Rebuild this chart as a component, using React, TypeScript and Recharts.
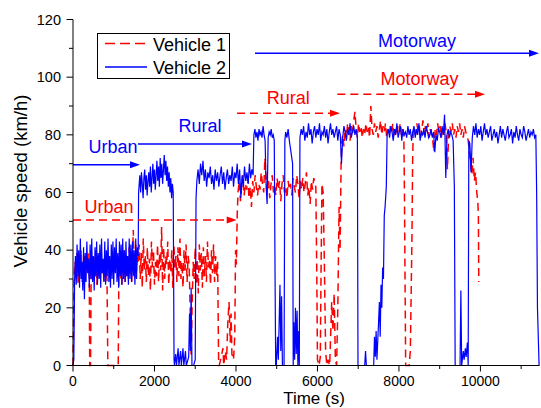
import React from 'react';
import { LineChart, Line, XAxis, YAxis, Legend, ReferenceLine, ReferenceDot } from 'recharts';

const FONT = '"Liberation Sans", Arial, Helvetica, sans-serif';
const RED = '#ff0000';
const BLUE = '#0000ff';
const DASH = '8 5';

const T_MAX = 11450;
const X_TICKS = [0, 1000, 2000, 3000, 4000, 5000, 6000, 7000, 8000, 9000, 10000, 11000];
const Y_TICKS = [0, 10, 20, 30, 40, 50, 60, 70, 80, 90, 100, 110, 120];

// ---- Vehicle 1 (red, dashed) ----
const V1_START = [[0, 0], [30, 32]];
const V1_URBAN_A = [36, 30, 39, 28, 37, 32, 40, 29, 35, 38, 30, 37, 33, 39, 31]; // 50..400 every 25 s
const V1_STOP_A = [[410, 0], [430, 0], [445, 30]];
const V1_URBAN_B = [36, 29, 38, 31, 40, 28, 35, 37, 30, 39, 32, 36, 29, 38, 33, 30]; // 460..835 every 25 s
const V1_STOP_B = [[855, 0], [1110, 0], [1125, 32]];
const V1_URBAN_C = [37, 30, 39, 28, 36, 33, 40, 29, 38, 31, 37, 30, 41, 32, 39, 29, 38, 47, 34, 30, 42, 33, 40]; // 1140..1580 every 20 s
const V1_URBAN_D = [
  36, 42, 30, 39, 27, 44, 33, 38, 29, 41, 31, 37, 26, 43, 34, 40, 28, 36, 31, 42,
  29, 39, 33, 48, 26, 41, 30, 38, 35, 43, 28, 37, 32, 40, 27, 42, 34, 38, 29, 41,
  31, 44, 30, 36, 27, 40, 33, 42, 29, 38, 35, 20, 3, 22, 36, 30, 41, 28, 37, 25,
  42, 33, 39, 27, 41, 31, 38, 29, 43, 34, 37, 28, 40, 32, 42, 29, 38, 31, 36,
]; // 1600..3550 every 25 s
const V1_STOP_C = [
  [3575, 0], [3590, 0], [3640, 3], [3680, 6], [3700, 0], [3740, 5], [3770, 2], [3800, 15], [3830, 22],
  [3860, 8], [3880, 18], [3900, 4], [3940, 2], [3970, 10], [3990, 40], [4010, 35], [4030, 52],
];
const V1_RURAL = [
  60, 64, 57, 62, 66, 59, 63, 61, 65, 58, 62, 55, 64, 60, 66, 62, 59, 63, 61, 67,
  63, 60, 72, 65, 61, 64, 58, 63, 66, 60, 62, 59, 65, 61, 64, 57, 63, 66, 60, 62,
  58, 64, 61, 63, 59, 65, 62, 60, 66, 63, 58, 64, 61, 65, 60, 63, 67, 59, 62, 56,
  64, 61, 65, 63,
]; // 4050..5940 every 30 s
const V1_STOP_GO = [
  [5960, 62], [5985, 30], [6000, 2], [6040, 0], [6070, 3], [6090, 35], [6110, 63], [6140, 60], [6170, 35],
  [6200, 5], [6230, 0], [6260, 2], [6300, 0], [6350, 22], [6380, 12], [6410, 25], [6440, 2], [6470, 0],
  [6500, 20], [6530, 55], [6555, 40], [6580, 70], [6600, 78],
];
const V1_MOTORWAY_A = [
  80, 76, 82, 79, 84, 81, 78, 83, 80, 85, 88, 82, 79, 84, 81, 83, 79, 82, 80, 84,
  81, 83, 79, 90, 82, 80, 84, 81, 83, 79, 82, 85, 80, 83, 81, 84, 79, 82, 80, 83,
  81, 84, 79, 82, 80, 83, 81, 84, 80, 82, 80,
]; // 6620..8120 every 30 s
const V1_STOP_D = [[8135, 60], [8150, 30], [8165, 0], [8250, 0], [8280, 5], [8300, 25], [8320, 45], [8335, 70], [8350, 81]];
const V1_MOTORWAY_B = [
  82, 80, 84, 81, 83, 79, 82, 85, 80, 83, 81, 84, 79, 82, 80, 78, 74, 82, 80, 84,
  81, 83, 79, 82, 80, 84, 81, 68, 80, 83, 81, 84, 80, 82, 79, 83, 81, 84, 80, 82,
  79, 83, 81, 80,
]; // 8380..9670 every 30 s
const V1_END = [[9700, 78], [9730, 74], [9760, 70], [9790, 66], [9820, 72], [9850, 64], [9880, 67], [9910, 60], [9935, 57], [9950, 52], [9960, 29]];

// ---- Vehicle 2 (blue, solid) ----
const V2_START = [[0, 0], [20, 2], [40, 30]];
const V2_URBAN = [
  38, 28, 42, 31, 40, 27, 44, 30, 36, 26, 41, 23, 39, 29, 43, 32, 37, 27, 42, 30,
  44, 29, 38, 26, 41, 31, 43, 28, 39, 30, 42, 27, 44, 32, 37, 29, 43, 28, 40, 31,
  44, 29, 38, 27, 42, 30, 43, 28, 41, 32, 44, 29, 39, 27, 43, 31, 42, 28, 44, 30,
  40, 29, 43, 31, 38, 28, 44, 30, 42, 29, 43, 31, 40, 28, 44, 30, 41,
]; // 60..1580 every 20 s
const V2_URBAN_EXIT = [[1600, 38], [1610, 60]];
const V2_RURAL_A = [
  62, 66, 60, 67, 63, 58, 65, 68, 61, 66, 59, 64, 67, 62, 69, 60, 65, 70, 63, 68,
  61, 66, 71, 64, 69, 62, 72, 65, 70, 63, 68, 73, 66, 71, 64, 69, 62, 67, 60, 65,
  58, 63, 60,
]; // 1620..2460 every 20 s
const V2_STOP_A = [
  [2480, 2], [2490, 0], [2520, 4], [2540, 0], [2580, 6], [2600, 0], [2640, 5], [2660, 0], [2700, 6], [2720, 0],
  [2760, 5], [2780, 0], [2840, 3], [2860, 18], [2880, 5], [2900, 27], [2920, 0], [2960, 0], [3000, 2], [3020, 58],
];
const V2_RURAL_B = [
  64, 68, 63, 70, 66, 71, 64, 68, 62, 67, 65, 69, 63, 66, 61, 68, 64, 67, 62, 66,
  69, 63, 67, 61, 65, 68, 63, 66, 64, 69, 62, 67, 65, 70, 63, 68, 58, 66, 62, 69,
  64, 67, 63, 70, 65, 68, 66,
]; // 3040..4420 every 30 s
const V2_MOTORWAY_A = [80, 82, 79, 81, 78, 82, 80, 81, 79, 83, 80, 78, 62, 56, 79, 81, 80, 82, 79, 80, 78]; // 4440..4940 every 25 s
const V2_STOP_B = [
  [4960, 30], [4975, 0], [4990, 0], [5020, 10], [5040, 2], [5080, 28], [5100, 5], [5120, 24], [5140, 0], [5180, 0],
  [5200, 78], [5220, 81], [5250, 79], [5280, 82], [5310, 78], [5340, 75], [5370, 72], [5390, 70], [5405, 0],
  [5420, 15], [5440, 2], [5460, 20], [5480, 4], [5500, 19], [5520, 0], [5540, 12], [5555, 0],
];
const V2_MOTORWAY_B = [
  79, 82, 80, 83, 78, 81, 79, 84, 80, 82, 77, 81, 83, 79, 82, 80, 84, 78, 81, 80,
  83, 79, 82, 77, 81, 84, 80, 82, 79, 81, 83, 78, 82, 80, 70, 79, 83, 81, 78, 82,
  80, 84, 79, 81, 83, 80, 82, 79,
]; // 5570..6980 every 30 s
const V2_STOP_C = [
  [6995, 0], [7020, 0], [7160, 0], [7180, 5], [7200, 0], [7380, 0], [7400, 10], [7420, 3], [7440, 12], [7460, 2],
  [7500, 15], [7520, 22], [7540, 10], [7560, 28], [7580, 20], [7600, 34], [7620, 30], [7640, 52], [7660, 55], [7690, 62],
];
const V2_MOTORWAY_C = [
  80, 82, 79, 83, 81, 78, 82, 80, 84, 79, 81, 83, 78, 82, 80, 81, 79, 83, 80, 82,
  78, 81, 83, 79, 82, 80, 84, 78, 81, 80, 82, 79, 83, 81, 79, 80, 82, 79, 81, 74,
  80, 78, 82, 81, 79, 83, 80, 87, 65, 80, 82, 79, 81, 80, 78, 62,
]; // 7710..9360 every 30 s
const V2_STOP_D = [[9380, 0], [9400, 0], [9500, 0], [9520, 26], [9540, 0], [9580, 5], [9600, 2], [9630, 6], [9650, 3], [9680, 8], [9700, 0], [9715, 78]];
const V2_MOTORWAY_D = [
  77, 67, 79, 83, 80, 84, 79, 82, 80, 83, 78, 81, 84, 80, 82, 79, 81, 83, 78, 80,
  82, 79, 81, 77, 80, 83, 79, 82, 80, 78, 81, 83, 79, 80, 82, 77, 81, 79, 83, 80,
  78, 82, 80, 79, 83, 81, 78, 80, 82, 79, 81, 80, 82, 79, 80,
]; // 9740..11360 every 30 s
const V2_END = [[11380, 60], [11400, 20], [11440, 0]];

// driving-phase annotations: [label, from (s), to (s), arrow level, label at (s), label level]
const V1_PHASES: [string, number, number, number, number, number][] = [
  ['Urban', 0, 4018, 50.5, 884, 52.8],
  ['Rural', 4025, 6553, 87.5, 5285, 90.7],
  ['Motorway', 6487, 10113, 94.1, 8505, 97.3],
];
const V2_PHASES: [string, number, number, number, number, number][] = [
  ['Urban', 0, 1645, 69.6, 982, 73.6],
  ['Rural', 1595, 4394, 76.8, 3117, 81.1],
  ['Motorway', 4467, 11438, 108.3, 8443, 110.6],
];

type Pt = { t: number; v: number };
const pairs = (list: number[][]): Pt[] => list.map(([t, v]) => ({ t, v }));
const run = (start: number, step: number, speeds: number[]): Pt[] => speeds.map((v, i) => ({ t: start + i * step, v }));

const vehicle1: Pt[] = [
  ...pairs(V1_START),
  ...run(50, 25, V1_URBAN_A),
  ...pairs(V1_STOP_A),
  ...run(460, 25, V1_URBAN_B),
  ...pairs(V1_STOP_B),
  ...run(1140, 20, V1_URBAN_C),
  ...run(1600, 25, V1_URBAN_D),
  ...pairs(V1_STOP_C),
  ...run(4050, 30, V1_RURAL),
  ...pairs(V1_STOP_GO),
  ...run(6620, 30, V1_MOTORWAY_A),
  ...pairs(V1_STOP_D),
  ...run(8380, 30, V1_MOTORWAY_B),
  ...pairs(V1_END),
];

const vehicle2: Pt[] = [
  ...pairs(V2_START),
  ...run(60, 20, V2_URBAN),
  ...pairs(V2_URBAN_EXIT),
  ...run(1620, 20, V2_RURAL_A),
  ...pairs(V2_STOP_A),
  ...run(3040, 30, V2_RURAL_B),
  ...run(4440, 25, V2_MOTORWAY_A),
  ...pairs(V2_STOP_B),
  ...run(5570, 30, V2_MOTORWAY_B),
  ...pairs(V2_STOP_C),
  ...run(7710, 30, V2_MOTORWAY_C),
  ...pairs(V2_STOP_D),
  ...run(9740, 30, V2_MOTORWAY_D),
  ...pairs(V2_END),
];

const XTick = (props: any) => {
  const { x, y, payload } = props;
  const major = payload.value % 2000 === 0;
  return (
    <g>
      <line x1={x} y1={y} x2={x} y2={y + (major ? 6 : 3.5)} stroke="#000" />
      {major && (
        <text x={x} y={y + 20} textAnchor="middle" fontSize={14} fontFamily={FONT} fill="#000">
          {payload.value}
        </text>
      )}
    </g>
  );
};

const TopTick = (props: any) => {
  const { x, y } = props;
  return <line x1={x} y1={y} x2={x} y2={y + 2.5} stroke="#000" />;
};

const YTick = (props: any) => {
  const { x, y, payload } = props;
  const major = payload.value % 20 === 0;
  return (
    <g>
      <line x1={x - (major ? 6.5 : 4)} y1={y} x2={x} y2={y} stroke="#000" />
      {major && (
        <text x={x - 12} y={y} dy={5.2} textAnchor="end" fontSize={14.5} fontFamily={FONT} fill="#000">
          {payload.value}
        </text>
      )}
    </g>
  );
};

const arrowShape = (color: string, dash?: string) => (p: any) => {
  const { x1, y1, x2, y2 } = p;
  return (
    <g>
      <line x1={x1} y1={y1} x2={x2 - 8} y2={y2} stroke={color} strokeWidth={1.5} strokeDasharray={dash} />
      <polygon points={`${x2},${y2} ${x2 - 10},${y2 - 3.5} ${x2 - 10},${y2 + 3.5}`} fill={color} />
    </g>
  );
};

const labelShape = (text: string, color: string) => (p: any) => (
  <text x={p.cx} y={p.cy} textAnchor="middle" fontSize={18} fontFamily={FONT} fill={color}>
    {text}
  </text>
);

const LegendBox = ({ payload }: any) => (
  <svg width={134} height={47} style={{ display: 'block' }}>
    <rect x={0.5} y={0.5} width={132} height={45} fill="#fff" stroke="#000" />
    {(payload || []).map((entry: any, i: number) => (
      <g key={entry.value}>
        <line
          x1={8}
          y1={10.5 + i * 23.4}
          x2={50}
          y2={10.5 + i * 23.4}
          stroke={entry.color}
          strokeWidth={1.5}
          strokeDasharray={i === 0 ? '10 5' : undefined}
        />
        <text x={56} y={18 + i * 23.4} fontSize={18} fontFamily={FONT} fill="#000">
          {entry.value}
        </text>
      </g>
    ))}
  </svg>
);

const renderPhases = (phases: typeof V1_PHASES, color: string, dash?: string) =>
  phases.flatMap(([name, from, to, level, at, labelLevel]) => [
    <ReferenceLine
      key={`${color}-${name}-arrow`}
      segment={[{ x: from, y: level }, { x: to, y: level }]}
      shape={arrowShape(color, dash)}
    />,
    <ReferenceDot key={`${color}-${name}-label`} x={at} y={labelLevel} r={1} shape={labelShape(name, color)} />,
  ]);

export default function App() {
  return (
    <div style={{ position: 'absolute', left: 0, top: 0, fontFamily: FONT }}>
      <LineChart width={541} height={408} margin={{ top: 19.5, right: 1.5, bottom: 0, left: 0 }}>
        <XAxis
          dataKey="t"
          type="number"
          domain={[0, T_MAX]}
          ticks={X_TICKS}
          interval={0}
          height={42.5}
          tickSize={0}
          tickMargin={0}
          tick={XTick}
          axisLine={{ stroke: '#000' }}
          tickLine={false}
          label={() => (
            <text x={314} y={404} textAnchor="middle" fontSize={17} fontFamily={FONT} fill="#000">
              Time (s)
            </text>
          )}
        />
        <XAxis
          xAxisId="top"
          orientation="top"
          dataKey="t"
          type="number"
          domain={[0, T_MAX]}
          ticks={X_TICKS}
          interval={0}
          height={0}
          tickSize={0}
          tickMargin={0}
          tick={TopTick}
          axisLine={{ stroke: '#000' }}
          tickLine={false}
        />
        <YAxis
          type="number"
          domain={[0, 120]}
          ticks={Y_TICKS}
          interval={0}
          width={73}
          tickSize={0}
          tickMargin={0}
          tick={YTick}
          axisLine={{ stroke: '#000' }}
          tickLine={false}
          label={() => (
            <text transform="translate(26.5, 181) rotate(-90)" textAnchor="middle" fontSize={18.5} fontFamily={FONT} fill="#000">
              Vehicle speed (km/h)
            </text>
          )}
        />
        <YAxis yAxisId="right" orientation="right" domain={[0, 120]} width={0} tick={false} tickLine={false} axisLine={{ stroke: '#000' }} />
        <Legend
          layout="vertical"
          align="center"
          verticalAlign="middle"
          wrapperStyle={{ left: 97, top: 33, width: 134, height: 47 }}
          content={LegendBox}
        />
        <Line
          data={vehicle1}
          dataKey="v"
          name="Vehicle 1"
          type="linear"
          stroke={RED}
          strokeWidth={1.5}
          strokeDasharray={DASH}
          dot={false}
          isAnimationActive={false}
        />
        <Line
          data={vehicle2}
          dataKey="v"
          name="Vehicle 2"
          type="linear"
          stroke={BLUE}
          strokeWidth={1.2}
          dot={false}
          isAnimationActive={false}
        />
        {renderPhases(V2_PHASES, BLUE)}
        {renderPhases(V1_PHASES, RED, DASH)}
      </LineChart>
    </div>
  );
}
